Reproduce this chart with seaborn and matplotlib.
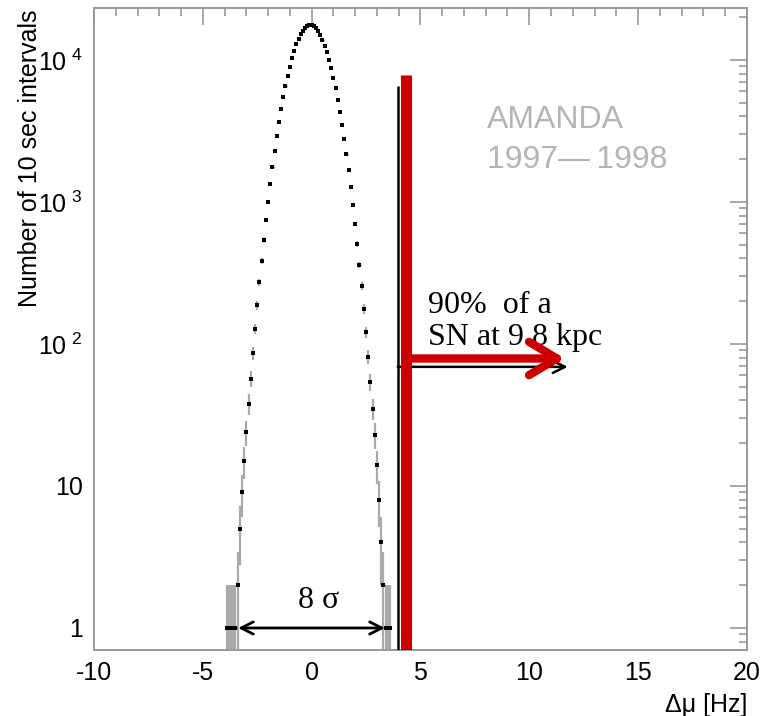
import numpy as np
import matplotlib
matplotlib.use("Agg")
import matplotlib.pyplot as plt
import matplotlib.ticker as mticker
import seaborn as sns

# histogram of rate deviations (bin centres in Hz, counts per bin)
bin_centers = [
    -3.9, -3.8, -3.7, -3.6, -3.5, -3.4, -3.3, -3.2, -3.1, -3.0,
    -2.9, -2.8, -2.7, -2.6, -2.5, -2.4, -2.3, -2.2, -2.1, -2.0,
    -1.9, -1.8, -1.7, -1.6, -1.5, -1.4, -1.3, -1.2, -1.1, -1.0,
    -0.9, -0.8, -0.7, -0.6, -0.5, -0.4, -0.3, -0.2, -0.1, 0.0,
    0.1, 0.2, 0.3, 0.4, 0.5, 0.6, 0.7, 0.8, 0.9, 1.0,
    1.1, 1.2, 1.3, 1.4, 1.5, 1.6, 1.7, 1.8, 1.9, 2.0,
    2.1, 2.2, 2.3, 2.4, 2.5, 2.6, 2.7, 2.8, 2.9, 3.0,
    3.1, 3.2, 3.3, 3.4, 3.5, 3.6,
]
counts = [
    1, 1, 1, 1, 1, 2, 5, 9, 15, 24,
    38, 57, 86, 128, 188, 272, 385, 540, 745, 1000,
    1340, 1760, 2270, 2890, 3630, 4480, 5460, 6530, 7710, 8950,
    10260, 11560, 12850, 14060, 15140, 16070, 16790, 17280, 17520, 17490,
    17200, 16660, 15890, 14930, 13820, 12600, 11310, 10000, 8710, 7470,
    6310, 5250, 4300, 3470, 2760, 2160, 1670, 1265, 946, 698,
    506, 361, 255, 177, 121, 81, 54, 35, 23, 14,
    8, 4, 2, 1, 1, 1,
]
bin_width = 0.1

# threshold markers
threshold_x = 3.96
threshold_top = 6500
sn_x = 4.35
sn_top = 7850
sn_arrow_y = 79
sn_arrow_end = 11.64
thr_arrow_y = 69
thr_arrow_end = 11.77
sigma_span = (-3.38, 3.37)

x = np.array(bin_centers)
y = np.array(counts, dtype=float)
err = np.sqrt(y)
err_low = np.minimum(err, y - 0.3)

sns.set_theme(style="white")
plt.rcParams["font.family"] = ["Liberation Sans", "DejaVu Sans"]
plt.rcParams["mathtext.fontset"] = "custom"
plt.rcParams["mathtext.rm"] = "Liberation Sans"
plt.rcParams["axes.unicode_minus"] = False
plt.rcParams["text.color"] = "black"
plt.rcParams["axes.labelcolor"] = "black"
plt.rcParams["xtick.labelcolor"] = "black"
plt.rcParams["ytick.labelcolor"] = "black"

fig = plt.figure(figsize=(7.78, 7.16), dpi=100)
ax = fig.add_axes([0.1208, 0.0922, 0.8392, 0.8966])

ax.errorbar(x, y, yerr=[err_low, err], fmt="none", ecolor="#aaaaaa",
            elinewidth=1.6, zorder=1)
ax.errorbar(x, y, xerr=bin_width / 2, fmt="none", ecolor="black",
            elinewidth=0.8, zorder=2)
sns.scatterplot(x=x, y=y, ax=ax, color="black", s=6, marker="s",
                linewidth=0, zorder=3)

ax.set_yscale("log", nonpositive="clip")
ax.set_xlim(-10, 20)
ax.set_ylim(0.70, 2.32e4)

# threshold lines
ax.vlines(threshold_x, 0.70, threshold_top, color="black", lw=1.8, zorder=4)
ax.vlines(sn_x, 0.70, sn_top, color="#cc0000", lw=8, zorder=5)
ax.annotate("", xy=(thr_arrow_end, thr_arrow_y), xytext=(threshold_x, thr_arrow_y),
            arrowprops=dict(arrowstyle="->", color="black", lw=1.8,
                            mutation_scale=22, shrinkA=0, shrinkB=0), zorder=4)
ax.annotate("", xy=(sn_arrow_end, sn_arrow_y), xytext=(sn_x, sn_arrow_y),
            arrowprops=dict(arrowstyle="->,head_length=0.5,head_width=0.3",
                            color="#cc0000", lw=6, capstyle="round",
                            mutation_scale=40, shrinkA=0, shrinkB=0), zorder=5)
ax.annotate("", xy=(sigma_span[1], 1.0), xytext=(sigma_span[0], 1.0),
            arrowprops=dict(arrowstyle="<->", color="black", lw=2,
                            mutation_scale=22, shrinkA=0, shrinkB=0), zorder=4)

serif = ["Liberation Serif", "DejaVu Serif"]
ax.text(5.34, 165, "90%  of a", family=serif, fontsize=23, va="baseline")
ax.text(5.34, 98, "SN at 9.8 kpc", family=serif, fontsize=23, va="baseline")
ax.text(0.31, 1.38, "8 σ", family=serif, fontsize=23, va="baseline", ha="center")
ax.text(8.05, 3310, "AMANDA", fontsize=23, color="#b4b4b4", va="baseline",
        fontweight="light")
ax.text(8.05, 1740, "1997\u2014\u20091998", fontsize=23, color="#b4b4b4",
        va="baseline", fontweight="light")

# ROOT-like frame and ticks
for s in ax.spines.values():
    s.set_color("#999999")
    s.set_linewidth(1.4)
ax.xaxis.set_major_locator(mticker.MultipleLocator(5))
ax.xaxis.set_minor_locator(mticker.MultipleLocator(1))
ax.yaxis.set_major_locator(mticker.LogLocator(base=10, numticks=10))
ax.yaxis.set_minor_locator(mticker.LogLocator(base=10, subs=np.arange(2, 10), numticks=20))
ax.yaxis.set_minor_formatter(mticker.NullFormatter())


def ylab(v, pos):
    if v < 5:
        return "1"
    if v < 50:
        return "10"
    return r"$\mathregular{10^{\,\,%d}}$" % int(round(np.log10(v)))


ax.yaxis.set_major_formatter(mticker.FuncFormatter(ylab))
ax.tick_params(which="both", direction="in", top=True, right=True,
               color="#999999", width=1.2, labelsize=18)
ax.tick_params(which="major", length=12, pad=8)
ax.tick_params(which="minor", length=6)

ax.set_ylabel("Number of 10 sec intervals", fontsize=18, loc="top")
ax.yaxis.set_label_coords(-0.080, 0.997)
ax.set_xlabel("Δμ [Hz]", fontsize=18, loc="right", labelpad=6)

fig.savefig("out.png", dpi=100)
